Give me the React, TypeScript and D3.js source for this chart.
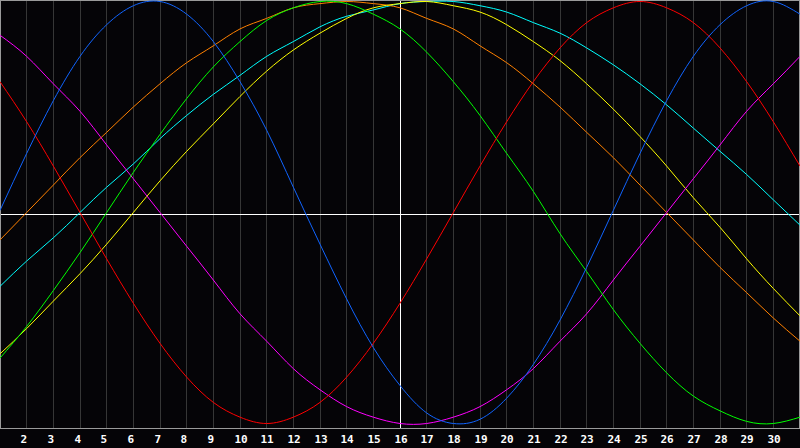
import { useEffect, useRef } from 'react';
import * as d3 from 'd3';

// days shown on the chart (1 .. 31), labels only for 2 .. 30
const days = d3.range(1, 32);
const labelDays = d3.range(2, 31);
const todayDay = 16;

// cycle values per day (-1 .. 1)
const physical = [
  0.01, 0.28, 0.53, 0.74, 0.89, 0.98, 1.0, 0.94, 0.81, 0.62, 0.39, 0.12, -0.15, -0.41, -0.64, -0.82,
  -0.95, -1.0, -0.98, -0.88, -0.72, -0.51, -0.26, 0.01, 0.28, 0.53, 0.74, 0.89, 0.98, 1.0, 0.94,
];
const emotional = [
  0.62, 0.43, 0.22, 0.0, -0.22, -0.43, -0.62, -0.78, -0.9, -0.97, -1.0, -0.97, -0.9, -0.78, -0.62, -0.43,
  -0.22, 0.0, 0.22, 0.43, 0.62, 0.78, 0.9, 0.97, 1.0, 0.97, 0.9, 0.78, 0.62, 0.43, 0.22,
];
const intellectual = [
  -0.69, -0.54, -0.37, -0.19, 0.0, 0.19, 0.37, 0.54, 0.69, 0.81, 0.91, 0.97, 1.0, 0.99, 0.94, 0.87,
  0.76, 0.62, 0.46, 0.28, 0.1, -0.1, -0.28, -0.46, -0.62, -0.76, -0.87, -0.94, -0.99, -1.0, -0.97,
];
const intuitive = [
  0.84, 0.74, 0.61, 0.48, 0.32, 0.16, 0.0, -0.16, -0.32, -0.48, -0.61, -0.74, -0.84, -0.92, -0.97, -1.0,
  -1.0, -0.97, -0.92, -0.84, -0.74, -0.61, -0.48, -0.32, -0.16, 0.0, 0.16, 0.32, 0.48, 0.61, 0.74,
];
const aesthetic = [
  -0.67, -0.55, -0.42, -0.29, -0.15, 0.0, 0.15, 0.29, 0.42, 0.55, 0.67, 0.77, 0.85, 0.92, 0.97, 0.99,
  1.0, 0.98, 0.95, 0.89, 0.81, 0.72, 0.61, 0.49, 0.36, 0.22, 0.07, -0.07, -0.22, -0.36, -0.49,
];
const awareness = [
  -0.13, 0.0, 0.13, 0.26, 0.38, 0.5, 0.61, 0.71, 0.79, 0.87, 0.92, 0.97, 0.99, 1.0, 0.99, 0.97,
  0.92, 0.87, 0.79, 0.71, 0.61, 0.5, 0.38, 0.26, 0.13, 0.0, -0.13, -0.26, -0.38, -0.5, -0.61,
];
const spiritual = [
  -0.35, -0.23, -0.12, 0.0, 0.12, 0.23, 0.35, 0.46, 0.56, 0.65, 0.74, 0.81, 0.88, 0.93, 0.96, 0.99,
  1.0, 1.0, 0.98, 0.95, 0.9, 0.85, 0.78, 0.7, 0.61, 0.51, 0.4, 0.29, 0.18, 0.06, -0.06,
];

const seriesNames = ['spiritual', 'awareness', 'aesthetic', 'intuitive', 'intellectual', 'emotional', 'physical'];
const seriesValues = [spiritual, awareness, aesthetic, intuitive, intellectual, emotional, physical];
const seriesColors = ['#00ffff', '#ff8000', '#ffff00', '#ff00ff', '#00ff00', '#ff0000', '#1064ff'];

export default function App() {
  const svgRef = useRef<SVGSVGElement>(null);
  const width = 800;
  const height = 448;

  useEffect(() => {
    document.body.style.margin = '0';
    if (!svgRef.current) return;

    const svg = d3.select(svgRef.current);
    svg.selectAll('*').remove();

    const plotBottom = 428;

    const x = d3.scaleLinear().domain([1, 31]).range([0, width]);
    const y = d3.scaleLinear().domain([-1, 1]).range([423.5, 1.5]);

    svg.append('rect').attr('width', width).attr('height', height).attr('fill', '#050407');

    // vertical day grid
    svg
      .append('g')
      .selectAll('line')
      .data(days.slice(1, -1))
      .join('line')
      .attr('x1', (d) => Math.floor(x(d)) + 0.5)
      .attr('x2', (d) => Math.floor(x(d)) + 0.5)
      .attr('y1', 0)
      .attr('y2', plotBottom)
      .attr('stroke', '#363636')
      .attr('shape-rendering', 'crispEdges');

    // frame
    svg
      .append('rect')
      .attr('x', 0.5)
      .attr('y', 0.5)
      .attr('width', width - 1)
      .attr('height', plotBottom)
      .attr('fill', 'none')
      .attr('stroke', '#9a9a9a')
      .attr('shape-rendering', 'crispEdges');

    // zero line and today marker
    svg
      .append('line')
      .attr('x1', 1)
      .attr('x2', width - 1)
      .attr('y1', plotBottom / 2 + 0.5)
      .attr('y2', plotBottom / 2 + 0.5)
      .attr('stroke', '#ffffff')
      .attr('shape-rendering', 'crispEdges');

    svg
      .append('line')
      .attr('x1', Math.floor(x(todayDay)) + 0.5)
      .attr('x2', Math.floor(x(todayDay)) + 0.5)
      .attr('y1', 1)
      .attr('y2', plotBottom)
      .attr('stroke', '#ffffff')
      .attr('shape-rendering', 'crispEdges');

    // cycles
    const line = d3
      .line<number>()
      .x((_, i) => x(days[i]))
      .y((v) => y(v))
      .curve(d3.curveNatural);

    const plot = svg.append('g');
    seriesValues.forEach((values, i) => {
      plot
        .append('path')
        .datum(values)
        .attr('class', seriesNames[i])
        .attr('fill', 'none')
        .attr('stroke', seriesColors[i])
        .attr('stroke-width', 1)
        .attr('d', line);
    });

    // day labels
    svg
      .append('g')
      .selectAll('text')
      .data(labelDays)
      .join('text')
      .attr('x', (d) => Math.floor(x(d)) - 5.5)
      .attr('y', 443)
      .attr('text-anchor', 'start')
      .style('font-family', '"DejaVu Sans Mono", monospace')
      .style('font-weight', 'bold')
      .style('font-size', '11px')
      .style('fill', '#ffffff')
      .text((d) => d);
  }, []);

  return <svg ref={svgRef} width={width} height={height} style={{ display: 'block' }} />;
}
